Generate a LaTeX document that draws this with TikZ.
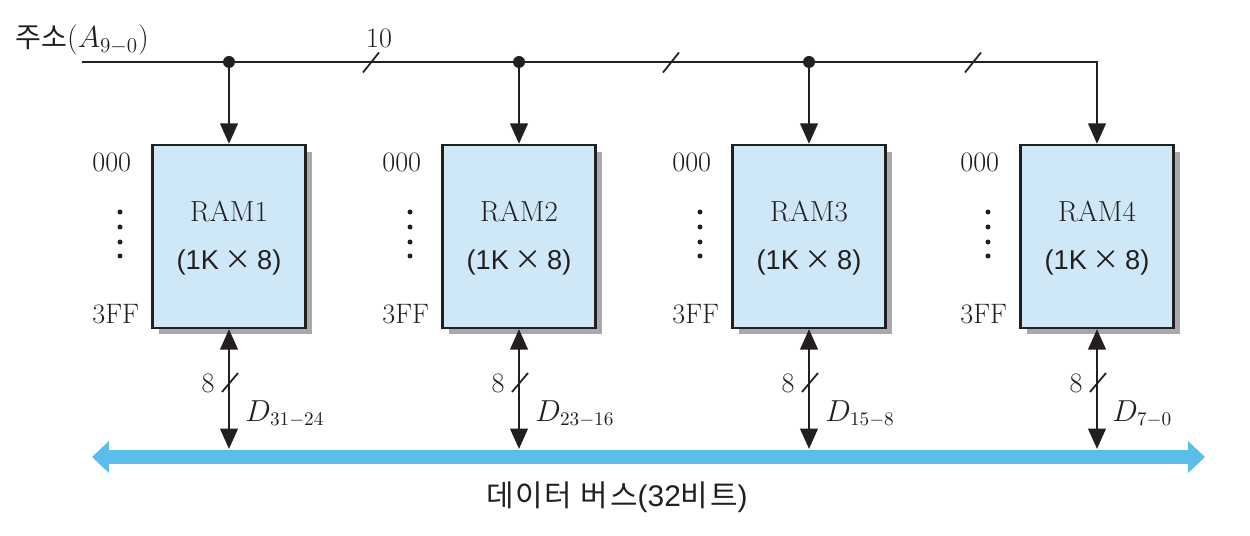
\documentclass[tikz,border=0pt]{standalone}
\usepackage{fontspec}
\newfontfamily\kr{Noto Sans CJK KR}
\newfontfamily\krsp[LetterSpace=6]{Noto Sans CJK KR}
\newfontfamily\lsans{Liberation Sans}
\usetikzlibrary{arrows.meta,shadows}
\definecolor{ramblue}{HTML}{CFE8F8}
\definecolor{busblue}{HTML}{5ABDEC}
\definecolor{shadowgray}{HTML}{A7A9AC}
\definecolor{ink}{HTML}{231F20}
\begin{document}
\begin{tikzpicture}[x=0.02cm,y=-0.02cm,
  every node/.style={inner sep=0pt, text=ink},
  ramblock/.style={draw=ink, line width=1.3pt, fill=ramblue,
    minimum width=3.06cm, minimum height=3.66cm,
    drop shadow={shadow xshift=0.13cm, shadow yshift=-0.13cm, fill=shadowgray, opacity=1}},
  ramname/.style={font=\fontsize{16.5}{19}\selectfont},
  ramsize/.style={font=\lsans\fontsize{15.5}{18}\selectfont},
  addrlbl/.style={anchor=west, font=\fontsize{16}{19}\selectfont},
  wire/.style={draw=ink, line width=1.5pt},
  tipped/.style={-{Triangle[length=0.41cm,width=0.35cm]}},
  bothtipped/.style={{Triangle[length=0.41cm,width=0.35cm]}-{Triangle[length=0.41cm,width=0.35cm]}},
  tick/.style={draw=ink, line width=1pt},
  junction/.style={circle, fill=ink, minimum size=0.24cm},
  bus/.style={draw=busblue, line width=0.28cm,
    {Triangle[length=0.34cm,width=0.62cm]}-{Triangle[length=0.34cm,width=0.62cm]}},
  widthlbl/.style={font=\fontsize{16}{19}\selectfont},
  datalbl/.style={anchor=base west, font=\fontsize{16}{19}\selectfont},
  vdot/.style={circle, fill=ink, minimum size=0.1cm}
]
\useasboundingbox (0,0) rectangle (1250,536);

% RAM blocks
\foreach \i/\x in {1/229,2/519,3/809,4/1097}{
  \node[ramblock] (ram\i) at (\x,236.5) {};
  \node[ramname] (name\i) at (\x,211) {RAM\i};
  \node[ramsize] (size\i) at (\x,262) {(1K\hspace{0.2em}{\kr ×}\hspace{0.2em}8)};
  \node[addrlbl] (lo\i) at (\x-137,162) {000};
  \node[addrlbl] (hi\i) at (\x-137,314) {3FF};
  \foreach \k/\yy in {a/212,b/227,c/242,d/256}{
    \node[vdot] (dot\i\k) at (\x-109,\yy) {};
  }
  \coordinate (d\i) at (\x,449);
  \draw[wire, bothtipped] (ram\i.south) -- (d\i);
  \coordinate (ds\i) at (\x+1,382.5);
  \draw[tick] ([shift={(-8,9.5)}]ds\i) -- ([shift={(8,-9.5)}]ds\i);
  \node[widthlbl] (w\i) at (\x-21,383) {8};
}
\node[datalbl] (dl1) at (245,421) {$D_{31-24}$};
\node[datalbl] (dl2) at (535,421) {$D_{23-16}$};
\node[datalbl] (dl3) at (825,421) {$D_{15-8}$};
\node[datalbl] (dl4) at (1112,421) {$D_{7-0}$};

% address bus
\coordinate (astart) at (82,62);
\coordinate (acorner) at (1097,62);
\node[junction] (j1) at (229,62) {};
\node[junction] (j2) at (519,62) {};
\node[junction] (j3) at (809,62) {};
\draw[wire, tipped] (astart) -- (acorner) -- (ram4.north);
\draw[wire, tipped] (j1.center) -- (ram1.north);
\draw[wire, tipped] (j2.center) -- (ram2.north);
\draw[wire, tipped] (j3.center) -- (ram3.north);
\foreach \s/\x in {1/371,2/671,3/973}{
  \coordinate (as\s) at (\x,62.5);
  \draw[tick] ([shift={(-8,10)}]as\s) -- ([shift={(8,-10)}]as\s);
}
\node[font=\fontsize{16}{19}\selectfont] (ten) at (379,38) {10};
\node[anchor=west] (addr) at (15,40) {{\kr\fontsize{16}{19}\selectfont 주소}{\fontsize{17.5}{19}\selectfont$(A_{9-0})$}};

% data bus
\coordinate (busL) at (92,457);
\coordinate (busR) at (1205,457);
\draw[bus] (busL) -- (busR);
\node[font=\fontsize{17}{20}\selectfont] (buslbl) at (617,497) {{\krsp 데이터 버스}{\lsans(32}{\krsp 비트}{\lsans)}};
\end{tikzpicture}
\end{document}
